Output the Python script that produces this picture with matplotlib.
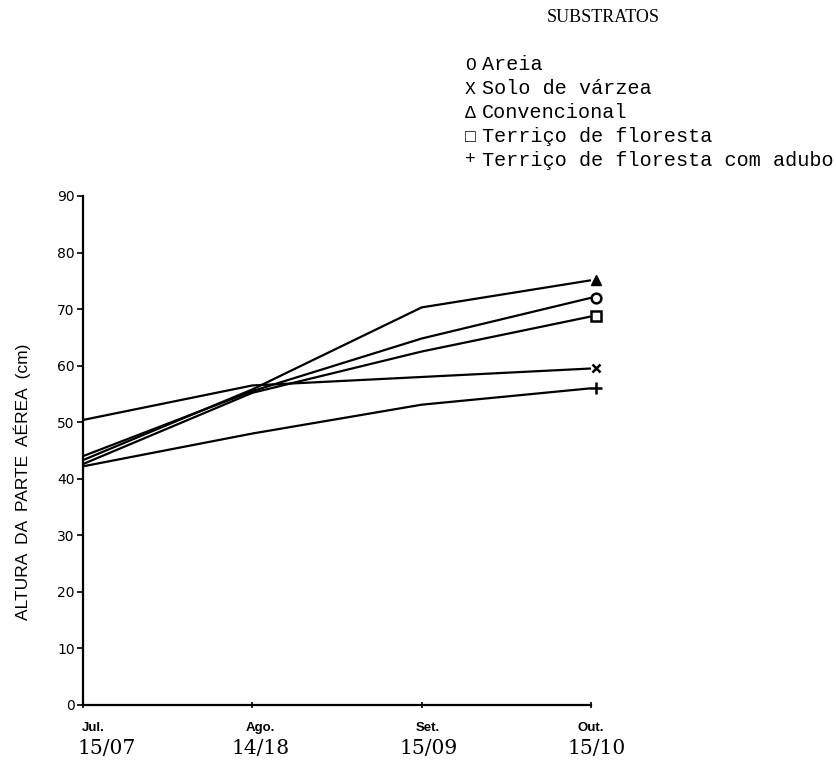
import matplotlib
matplotlib.use("Agg")
import matplotlib.pyplot as plt
import matplotlib.transforms as mtransforms

# ---- data ----
months = ["Jul.", "Ago.", "Set.", "Out."]
dates = ["15/07", "14/18", "15/09", "15/10"]
series_names = ["Areia", "Solo de várzea", "Convencional",
                "Terriço de floresta", "Terriço de floresta com adubo"]
series_symbols = ["O", "X", "Δ", "□", "+"]
areia = [44.0, 55.5, 64.8, 72.0]
solo_varzea = [50.4, 56.5, 58.0, 59.5]
convencional = [43.3, 55.8, 70.3, 75.1]
terrico = [42.6, 55.2, 62.5, 68.7]
terrico_adubo = [42.2, 48.0, 53.1, 56.0]
yticks = [0, 10, 20, 30, 40, 50, 60, 70, 80, 90]

W, H = 837, 761
fig = plt.figure(figsize=(W / 100, H / 100), dpi=100)
ax = fig.add_axes([83 / W, 1 - 705 / H, (591 - 83) / W, (705 - 196) / H])

xs = list(range(len(months)))
all_series = [areia, solo_varzea, convencional, terrico, terrico_adubo]
markers = ["o", "x", "^", "s", "+"]
msizes = [7, 6, 6.5, 7, 9]
offset = mtransforms.offset_copy(ax.transData, fig=fig, x=5, y=0, units="dots")
for vals, m, ms in zip(all_series, markers, msizes):
    ax.plot(xs, vals, color="black", lw=1.6, solid_capstyle="butt")
    if m in ("o", "s"):
        ax.plot([xs[-1]], [vals[-1]], marker=m, ms=ms, mfc="white", mec="black",
                mew=1.8, transform=offset, clip_on=False)
    elif m == "^":
        ax.plot([xs[-1]], [vals[-1]], marker=m, ms=ms, mfc="black", mec="black",
                transform=offset, clip_on=False)
    else:
        ax.plot([xs[-1]], [vals[-1]], marker=m, ms=ms, color="black", mew=1.8,
                transform=offset, clip_on=False)

ax.set_xlim(0, 3)
ax.set_ylim(0, 90)
for s in ("top", "right"):
    ax.spines[s].set_visible(False)
for s in ("left", "bottom"):
    ax.spines[s].set_linewidth(1.6)

ax.set_yticks(yticks)
ax.set_yticklabels([str(v) for v in yticks], fontfamily="DejaVu Sans", fontsize=10)
ax.tick_params(axis="y", direction="out", length=4, width=1.2, pad=2)
ax.set_xticks(xs)
ax.set_xticklabels([])
ax.tick_params(axis="x", direction="inout", length=5, width=1.2)

trans = mtransforms.blended_transform_factory(ax.transData, ax.transAxes)
month_dx = [10, 8, 6, 0]
date_dx = [24, 8, 7, 6]
for x, mo, d, mdx, ddx in zip(xs, months, dates, month_dx, date_dx):
    ax.annotate(mo, xy=(x, 0), xycoords=trans, xytext=(mdx, -23),
                textcoords="offset pixels", ha="center", va="center",
                fontfamily="Liberation Sans", fontsize=9.5, fontweight="bold")
    ax.annotate(d, xy=(x, 0), xycoords=trans, xytext=(ddx, -43),
                textcoords="offset pixels", ha="center", va="center",
                fontfamily="DejaVu Serif", fontsize=14.5)

fig.text(22 / W, 1 - 482 / H, "ALTURA  DA  PARTE  AÉREA  (cm)", rotation=90,
         ha="center", va="center", fontfamily="Liberation Sans", fontsize=12.5)

fig.text(603 / W, 1 - 17 / H, "SUBSTRATOS", ha="center", va="center",
         fontfamily="Liberation Serif", fontsize=13)
leg_y = [65, 89, 113, 137, 160]
for yy, sym, name in zip(leg_y, series_symbols, series_names):
    fig.text(470 / W, 1 - yy / H, sym, ha="center", va="center",
             fontfamily=["Liberation Mono", "DejaVu Sans Mono"], fontsize=13,
             fontweight="bold" if sym == "□" else "normal")
    fig.text(482 / W, 1 - yy / H, name, ha="left", va="center",
             fontfamily=["Liberation Mono", "DejaVu Sans Mono"], fontsize=14.5)

fig.savefig("out.png", dpi=100, facecolor="white")
